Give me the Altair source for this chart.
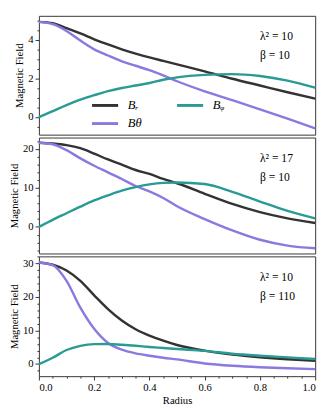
import altair as alt
import pandas as pd

radius = [0, 0.05, 0.1, 0.15, 0.2, 0.25, 0.3, 0.35, 0.4, 0.45, 0.5, 0.6, 0.7, 0.8, 0.9, 1.0]

# Panel 1: lambda^2 = 10, beta = 10
p1_br = [4.92, 4.85, 4.6, 4.32, 4.02, 3.75, 3.5, 3.28, 3.08, 2.9, 2.72, 2.36, 1.98, 1.63, 1.28, 0.95]
p1_bt = [4.92, 4.8, 4.45, 3.95, 3.5, 3.18, 2.88, 2.65, 2.42, 2.15, 1.85, 1.33, 0.87, 0.4, -0.08, -0.58]
p1_bp = [0.0, 0.31, 0.62, 0.9, 1.13, 1.34, 1.5, 1.63, 1.76, 1.93, 2.05, 2.18, 2.22, 2.12, 1.88, 1.52]

# Panel 2: lambda^2 = 17, beta = 10
p2_br = [21.6, 21.4, 21.0, 20.2, 18.8, 17.3, 16.0, 14.6, 13.6, 12.3, 11.2, 8.5, 5.9, 3.8, 2.2, 1.0]
p2_bt = [21.6, 21.2, 19.7, 17.6, 15.7, 14.0, 12.3, 10.5, 9.1, 7.4, 5.3, 2.0, -0.9, -3.3, -4.8, -5.5]
p2_bp = [0.0, 1.8, 3.5, 5.2, 6.8, 8.1, 9.3, 10.2, 10.9, 11.3, 11.4, 11.0, 9.0, 6.5, 4.1, 2.2]

# Panel 3: lambda^2 = 10, beta = 110
p3_br = [30.3, 29.6, 27.9, 24.8, 20.5, 16.4, 13.0, 10.4, 8.5, 7.0, 5.7, 4.0, 2.85, 2.05, 1.45, 1.0]
p3_bt = [30.3, 29.5, 24.8, 16.8, 10.5, 6.3, 4.3, 3.2, 2.5, 1.9, 1.4, 0.2, -0.5, -0.95, -1.25, -1.5]
p3_bp = [0.0, 1.9, 4.2, 5.45, 5.95, 6.0, 5.75, 5.45, 5.1, 4.8, 4.5, 3.95, 3.1, 2.5, 2.0, 1.5]

series_names = ["Bᵣ", "Bθ", "Bᵩ"]
series_colors = ["#333333", "#8c78e1", "#2a9b94"]

lam_labels = ["λ² = 10", "λ² = 17", "λ² = 10"]
beta_labels = ["β = 10", "β = 10", "β = 110"]

y_domains = [[-0.91, 5.23], [-6.83, 22.93], [-3.6, 32.1]]
y_major = [[0, 2, 4], [0, 10, 20], [0, 10, 20, 30]]
y_minor = [
    [-0.5, 0.5, 1, 1.5, 2.5, 3, 3.5, 4.5, 5],
    [-6, -4, -2, 2, 4, 6, 8, 12, 14, 16, 18, 22],
    [-2, 2, 4, 6, 8, 12, 14, 16, 18, 22, 24, 26, 28, 32],
]
x_major = [0, 0.2, 0.4, 0.6, 0.8, 1.0]
x_minor = [0.05, 0.1, 0.15, 0.25, 0.3, 0.35, 0.45, 0.5, 0.55, 0.65, 0.7, 0.75, 0.85, 0.9, 0.95]
heights = [123, 120, 124]
annot_x = [0.8]

panel_data = [(p1_br, p1_bt, p1_bp), (p2_br, p2_bt, p2_bp), (p3_br, p3_bt, p3_bp)]

FONT = "Liberation Serif"


def make_panel(i):
    br, bt, bp = panel_data[i]
    rows = []
    for name, vals in zip(series_names, [br, bt, bp]):
        for r, v in zip(radius, vals):
            rows.append({"radius": r, "value": v, "series": name})
    df = pd.DataFrame(rows)
    last = i == 2
    xscale = alt.Scale(domain=[0, 1], nice=False, zero=False)
    yscale = alt.Scale(domain=y_domains[i], nice=False, zero=False)

    if last:
        xaxis = alt.Axis(values=x_major, format=".1f", tickSize=4, labelPadding=2,
                         title="Radius", titlePadding=2, domain=False, grid=False)
        xaxis_minor = alt.Axis(values=x_minor, labels=False, tickSize=2, title=None,
                               domain=False, grid=False, orient="bottom")
    else:
        xaxis = None
        xaxis_minor = None

    if i == 0:
        legend = alt.Legend(
            orient="none", legendX=62, legendY=86, columns=2, title=None,
            symbolType="M-2.7,0H2.7", symbolSize=100, symbolStrokeWidth=3,
            labelFont=FONT, labelFontSize=13, labelFontStyle="italic",
            labelColor="black", labelOffset=17, columnPadding=30, rowPadding=5,
            padding=0,
        )
    else:
        legend = None

    lines = alt.Chart(df).mark_line(strokeWidth=2.5, interpolate="monotone").encode(
        x=alt.X("radius:Q", scale=xscale, axis=xaxis),
        y=alt.Y("value:Q", scale=yscale,
                axis=alt.Axis(values=y_major[i], tickSize=4, labelPadding=2,
                              title="Magnetic Field", titlePadding=3, domain=False, grid=False)),
        color=alt.Color("series:N",
                        scale=alt.Scale(domain=series_names, range=series_colors),
                        legend=legend),
    )
    minor = alt.Chart(df).mark_line(opacity=0).encode(
        x=alt.X("radius:Q", scale=xscale, axis=xaxis_minor),
        y=alt.Y("value:Q", scale=yscale,
                axis=alt.Axis(values=y_minor[i], labels=False, tickSize=2, title=None,
                              domain=False, grid=False, orient="left")),
        detail="series:N",
    )
    adf = pd.DataFrame({"x": annot_x, "lam": [lam_labels[i]], "beta": [beta_labels[i]]})
    t1 = alt.Chart(adf).mark_text(align="left", baseline="middle", font=FONT,
                                  fontSize=12, color="black").encode(
        x=alt.X("x:Q", scale=xscale, axis=None), y=alt.value(21), text="lam:N")
    t2 = alt.Chart(adf).mark_text(align="left", baseline="middle", font=FONT,
                                  fontSize=12, color="black").encode(
        x=alt.X("x:Q", scale=xscale, axis=None), y=alt.value(41), text="beta:N")
    return alt.layer(lines, minor, t1, t2).resolve_axis(
        x="independent", y="independent").properties(width=286, height=heights[i])


chart = alt.vconcat(make_panel(0), make_panel(1), make_panel(2), spacing=1).resolve_scale(
    color="independent").properties(
    padding={"left": 0, "top": 0, "right": 0, "bottom": 0}
).configure_view(stroke="#333333", strokeWidth=1).configure_axis(
    labelFont=FONT, labelFontSize=11, labelColor="black",
    titleFont=FONT, titleFontSize=11, titleFontWeight="normal", titleColor="black",
    tickColor="#333333",
)

chart.save("out.html", embed_options={"renderer": "svg", "actions": False})
